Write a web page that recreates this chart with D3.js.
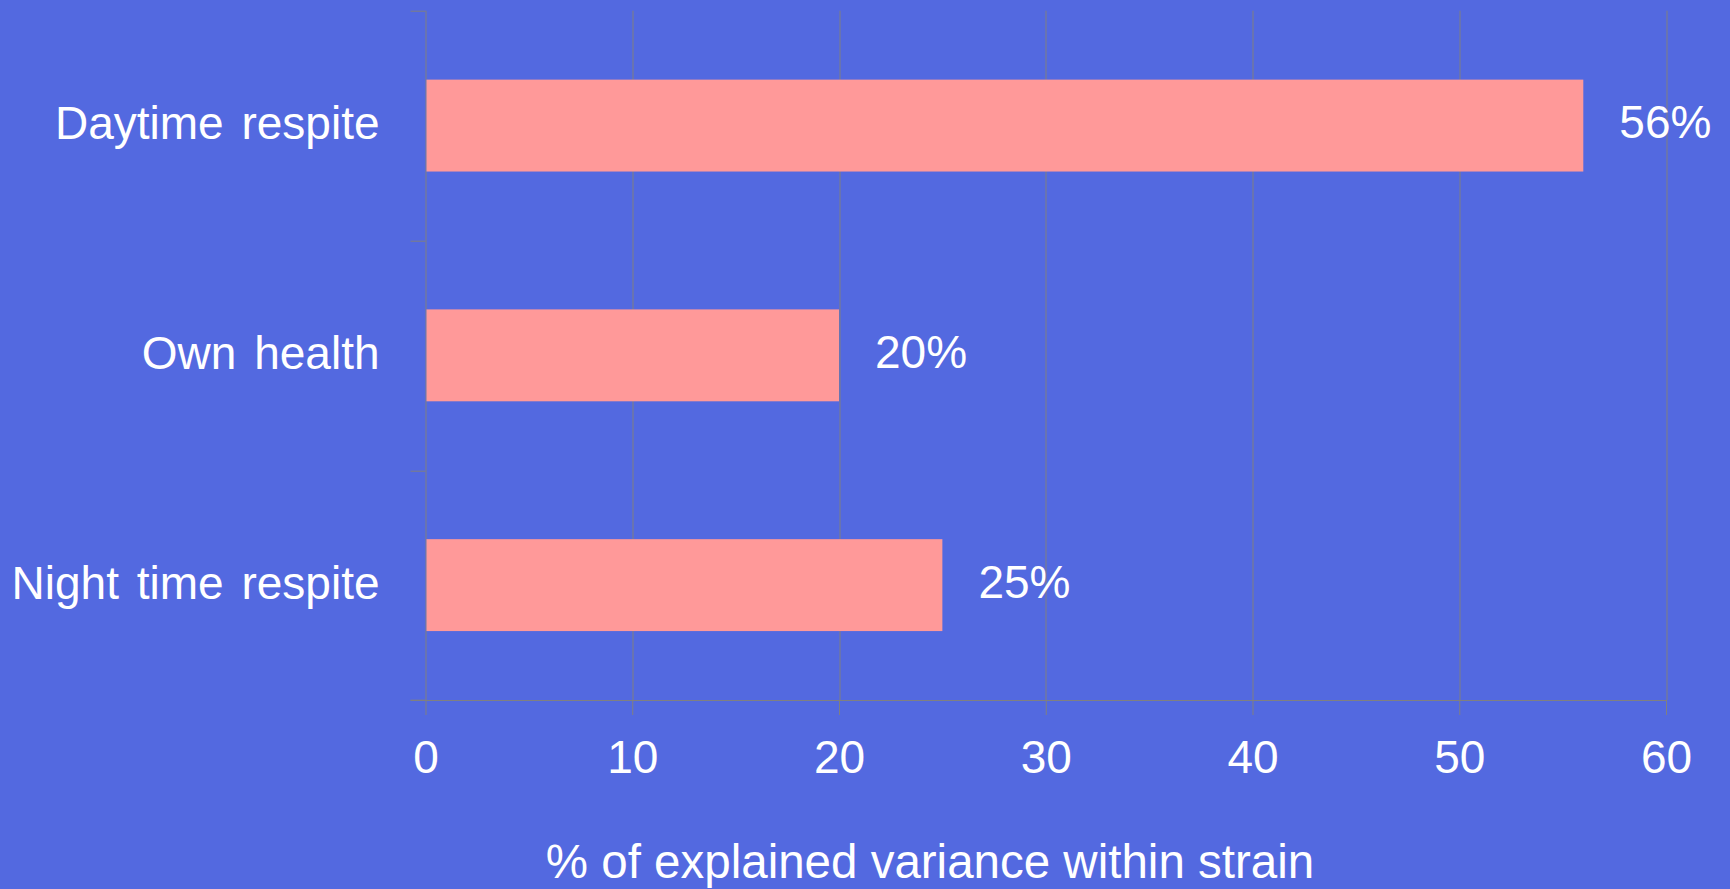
<!DOCTYPE html>
<head>
  <meta charset="utf-8">
  <title>Explained variance</title>
  <script src="https://d3js.org/d3.v7.min.js"></script>
  <style>
    html, body { margin: 0; padding: 0; background: #5369e0; }
    text { font-family: "Liberation Sans", Arial, sans-serif; fill: #ffffff; }
  </style>
</head>
<body>
  <div id="chart"></div>
  <script>
    // data
    var categories = ['Daytime respite', 'Own health', 'Night time respite'];
    var values = [56, 20, 25];
    var xTicks = [0, 10, 20, 30, 40, 50, 60];
    var xTitle = '% of explained variance within strain';

    var W = 1730, H = 889;
    var margin = { top: 10.7, left: 425.5, right: 64, bottom: 189 };
    var width = W - margin.left - margin.right;
    var height = H - margin.top - margin.bottom;
    var grey = '#808080';

    var svg = d3.select('#chart').append('svg')
      .attr('width', W).attr('height', H);

    svg.append('rect').attr('width', W).attr('height', H).attr('fill', '#5369e0');

    var g = svg.append('g')
      .attr('transform', 'translate(' + margin.left + ',' + margin.top + ')');

    var x = d3.scaleLinear().domain([0, 60]).range([0, width]);
    var y = d3.scaleBand().domain(categories).range([0, height])
      .paddingInner(0.6).paddingOuter(0.3);

    // vertical gridlines
    g.selectAll('.grid').data(xTicks.slice(1)).enter().append('line')
      .attr('x1', function (d) { return Math.round(x(d)) + 0.5; })
      .attr('x2', function (d) { return Math.round(x(d)) + 0.5; })
      .attr('y1', 0).attr('y2', height)
      .attr('stroke', grey).attr('stroke-width', 1);

    // x axis
    var xAxis = g.append('g')
      .attr('transform', 'translate(0,' + height + ')')
      .call(d3.axisBottom(x).tickValues(xTicks).tickSize(15).tickSizeOuter(0).tickPadding(25));
    xAxis.select('.domain').remove();
    xAxis.selectAll('line').attr('stroke', grey);
    xAxis.selectAll('text')
      .style('font-size', '46px')
      .attr('fill', '#fff');
    g.append('line')
      .attr('x1', -15).attr('x2', width)
      .attr('y1', height + 0.5).attr('y2', height + 0.5)
      .attr('stroke', grey);

    // y axis line and ticks at band boundaries
    g.append('line')
      .attr('x1', 0.5).attr('x2', 0.5).attr('y1', 0).attr('y2', height)
      .attr('stroke', grey);
    var bounds = categories.map(function (c) { return y(c) - y.step() * 0.3; });
    bounds.push(height);
    g.selectAll('.ytick').data(bounds).enter().append('line')
      .attr('x1', -15).attr('x2', 0)
      .attr('y1', function (d) { return Math.round(d) + 0.5; })
      .attr('y2', function (d) { return Math.round(d) + 0.5; })
      .attr('stroke', grey);

    // category labels
    g.selectAll('.cat').data(categories).enter().append('text')
      .attr('x', -46)
      .attr('y', function (d) { return y(d) + y.bandwidth() / 2; })
      .attr('dy', '0.3em')
      .attr('text-anchor', 'end')
      .style('font-size', '46px')
      .style('word-spacing', '5px')
      .text(function (d) { return d; });

    // bars
    g.selectAll('.bar').data(values).enter().append('rect')
      .attr('x', 1)
      .attr('y', function (d, i) { return y(categories[i]); })
      .attr('width', function (d) { return x(d) - 1; })
      .attr('height', y.bandwidth())
      .attr('fill', '#ff9999');

    // value labels
    g.selectAll('.val').data(values).enter().append('text')
      .attr('x', function (d) { return x(d) + 36; })
      .attr('y', function (d, i) { return y(categories[i]) + y.bandwidth() / 2; })
      .attr('dy', '0.27em')
      .style('font-size', '46px')
      .text(function (d) { return d + '%'; });

    // axis title
    svg.append('text')
      .attr('x', 930).attr('y', 878)
      .attr('text-anchor', 'middle')
      .style('font-size', '47.5px')
      .text(xTitle);
  </script>
</body>
